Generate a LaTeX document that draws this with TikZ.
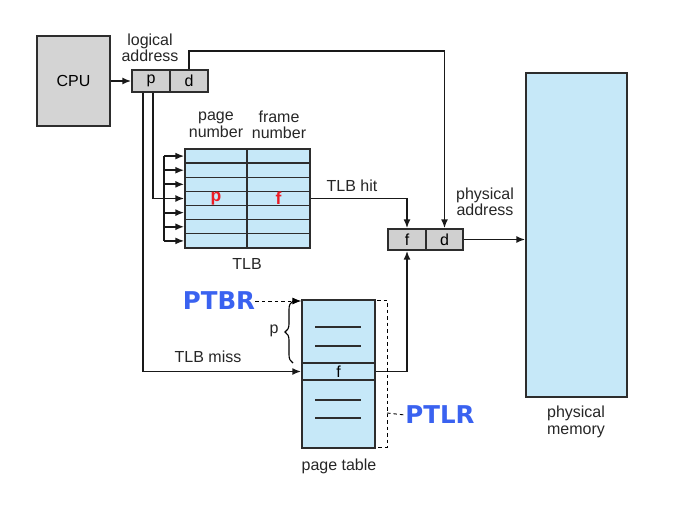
\documentclass[tikz,border=0pt]{standalone}
\usepackage{fontspec}
\setmainfont{Liberation Sans}
\newfontfamily\blfont{DejaVu Sans}
\usetikzlibrary{arrows.meta,decorations.pathreplacing}
\definecolor{boxgray}{RGB}{212,212,212}
\definecolor{regray}{RGB}{208,208,208}
\definecolor{lblue}{RGB}{198,232,248}
\definecolor{edge}{RGB}{45,45,45}
\definecolor{regblue}{RGB}{58,98,240}
\definecolor{hired}{RGB}{236,28,36}
\tikzset{
  cell/.style={draw=edge, line width=1.3pt, inner sep=0pt, anchor=center},
  graycell/.style={cell, fill=regray},
  bluecell/.style={cell, fill=lblue},
  lbl/.style={font=\fontsize{16}{16.5}\selectfont, align=center, inner sep=0pt, text=black!85},
  arr/.style={line width=1.8pt, draw=black!90, -{Latex[length=9pt,width=7pt]}},
  wire/.style={line width=1.8pt, draw=black!90},
  reglbl/.style={font=\blfont\bfseries\fontsize{24.5}{24.5}\selectfont, text=regblue, inner sep=0pt},
  dsh/.style={line width=0.9pt, dashed, dash pattern=on 3.5pt off 3pt},
}
\begin{document}
\begin{tikzpicture}[x=1pt,y=-1pt]
\useasboundingbox (0,0) rectangle (700,520);
% CPU
\node[cell, fill=boxgray, minimum width=73pt, minimum height=90pt, font=\fontsize{16}{16}\selectfont] (cpu) at (73.5,81) {CPU};
% logical address register
\node[graycell, minimum width=38pt, minimum height=22pt, font=\fontsize{16}{16}\selectfont] (lp) at (151,81) {p};
\node[graycell, minimum width=38pt, minimum height=22pt, font=\fontsize{16}{16}\selectfont] (ld) at (189,81) {d};
\node[lbl] (lalbl) at (150,48) {logical\\address};
% TLB
\foreach \i in {1,...,7}{
  \node[bluecell, minimum width=62pt, minimum height=14.14pt] (tlbp\i) at (216,{149+(\i-0.5)*14.14}) {};
  \node[bluecell, minimum width=63pt, minimum height=14.14pt] (tlbf\i) at (278.5,{149+(\i-0.5)*14.14}) {};
}
\node[font=\bfseries\fontsize{17.5}{17.5}\selectfont, text=hired, inner sep=0pt] (redp) at (tlbp4) {p};
\node[font=\bfseries\fontsize{17.5}{17.5}\selectfont, text=hired, inner sep=0pt] (redf) at (tlbf4) {f};
\node[lbl] (pnlbl) at (216,125) {page\\number};
\node[lbl] (fnlbl) at (279,125) {frame\\number};
\node[lbl] (tlblbl) at (247,264) {TLB};
% physical address register
\node[graycell, minimum width=38pt, minimum height=21pt, font=\fontsize{16}{16}\selectfont] (pf) at (407,239.5) {f};
\node[graycell, minimum width=37pt, minimum height=21pt, font=\fontsize{16}{16}\selectfont] (pd) at (444.5,239.5) {d};
\node[lbl] (palbl) at (485,202) {physical\\address};
% physical memory
\node[bluecell, minimum width=101pt, minimum height=324pt] (mem) at (576.5,235) {};
\node[lbl] (pmlbl) at (576,422) {physical\\memory};
% page table
\node[bluecell, minimum width=73pt, minimum height=63pt] (pt1) at (338.5,331.5) {};
\node[bluecell, minimum width=73pt, minimum height=17pt, font=\fontsize{16}{16}\selectfont] (ptf) at (338.5,371.5) {f};
\node[bluecell, minimum width=73pt, minimum height=68pt] (pt3) at (338.5,414) {};
\draw[line width=1.3pt, draw=edge] (315,327) -- (361,327) (315,346) -- (361,346) (315,400) -- (361,400) (315,418) -- (361,418);
\node[lbl] (ptlbl) at (339,466) {page table};
% labels
\node[lbl] (hitlbl) at (352,186) {TLB hit};
\node[lbl] (misslbl) at (208,357) {TLB miss};
% connectors
\draw[arr] (cpu.east) -- (lp.west);
\draw[arr] (ld.north) -- ++(0,-18) -| (pd.north);
\coordinate (pa) at ([xshift=12pt]lp.south west);
\coordinate (pb) at ([xshift=22pt]lp.south west);
\draw[arr] (pa) |- (ptf.west);
\draw[arr] (pb) |- (tlbp4.west);
\coordinate (combx) at (164,0);
\draw[wire] (tlbp1.west -| combx) -- (tlbp7.west -| combx);
\foreach \i in {1,2,3,5,6,7}{
  \draw[arr] (tlbp\i.west -| combx) -- (tlbp\i.west);
}
\draw[arr] (tlbf4.east) -| (pf.north);
\draw[arr] (ptf.east) -| (pf.south);
\draw[arr] (pd.east) -- (pd.east -| mem.west);
% PTBR
\node[reglbl] (ptbr) at (219,301) {PTBR};
\draw[dsh, -{Latex[length=9pt,width=7pt]}] (ptbr.east) -- (ptbr.east -| pt1.west);
% brace p
\draw[line width=1.1pt, decorate, decoration={brace, amplitude=8pt}] (293,363) -- (293,301);
\node[lbl] (plbl) at (274,331) {p};
% PTLR
\coordinate (ptlrtop) at (387,300);
\coordinate (ptlrbot) at (387,447);
\draw[dsh] (377,300) -- (ptlrtop) -- (ptlrbot) -- (377,447);
\node[reglbl] (ptlr) at (440,415) {PTLR};
\draw[dsh] (387,413) -- (ptlr.west);
\end{tikzpicture}
\end{document}
